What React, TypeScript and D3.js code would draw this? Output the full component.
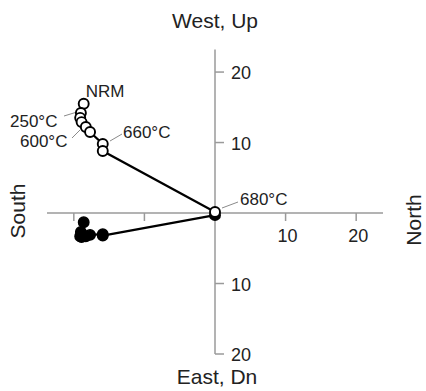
import React from "react";
import * as d3 from "d3";

// demagnetization steps
const steps = ["NRM", "", "250°C", "", "", "600°C", "660°C", "", "680°C"];
// North component (shared by both projections)
const northVals = [-18.6, -19.0, -19.1, -18.9, -18.3, -17.7, -15.9, -15.9, 0];
// vertical projection (Up), open circles
const upVals = [15.5, 14.2, 13.5, 12.9, 12.2, 11.5, 9.8, 8.8, 0.15];
// horizontal projection (West), filled circles
const westVals = [-1.3, -2.7, -3.3, -3.4, -3.3, -3.1, -3.0, -3.2, -0.3];

const xTicks = [-20, -10, 10, 20];
const yTicks = [-20, -10, 10, 20];

const W = 426;
const H = 391;
const FONT = "'Liberation Sans', Arial, sans-serif";

const x = d3.scaleLinear().domain([-23.8, 23.8]).range([47, 383]);
const y = d3.scaleLinear().domain([-20, 23.2]).range([354, 49.5]);

// label placement for the temperature steps: text position and leader line
const labelPos: Record<string, { tx: number; ty: number; anchor: string; l?: number[] }> = {
  NRM: { tx: 105, ty: 97, anchor: "middle" },
  "250°C": { tx: 10, ty: 127, anchor: "start", l: [64, 116, 77, 112] },
  "600°C": { tx: 20, ty: 147, anchor: "start", l: [72, 138, 80, 130] },
  "660°C": { tx: 123, ty: 138, anchor: "start", l: [110, 141, 122, 134] },
  "680°C": { tx: 240, ty: 205, anchor: "start", l: [222, 208, 238, 202] },
};

export default function App() {
  const vertPts = northVals.map((n, i) => [x(n), y(upVals[i])] as [number, number]);
  const horPts = northVals.map((n, i) => [x(n), y(westVals[i])] as [number, number]);
  const line = d3.line();
  const x0 = x(0);
  const y0 = y(0);

  return (
    <svg width={W} height={H} style={{ position: "absolute", left: 0, top: 0, background: "#fff" }} fontFamily={FONT}>
      {/* axes */}
      <g stroke="#9a9a9a" strokeWidth={1.5} fill="none">
        <line x1={x.range()[0]} x2={x.range()[1]} y1={y0} y2={y0} />
        <line x1={x0} x2={x0} y1={y.range()[0]} y2={y.range()[1]} />
        {xTicks.map((t) => (
          <line key={"xt" + t} x1={x(t)} x2={x(t)} y1={y0} y2={y0 + 8} />
        ))}
        {yTicks.map((t) => (
          <line key={"yt" + t} x1={x0} x2={x0 + 9} y1={y(t)} y2={y(t)} />
        ))}
      </g>
      <g fontSize={18} fill="#222">
        {xTicks.filter((t) => t > 0).map((t) => (
          <text key={"xl" + t} x={x(t) + 2} y={y0 + 29} textAnchor="middle">{Math.abs(t)}</text>
        ))}
        {yTicks.map((t) => (
          <text key={"yl" + t} x={x0 + 16} y={y(t) + 7} textAnchor="start">{Math.abs(t)}</text>
        ))}
      </g>

      {/* axis names */}
      <g fontSize={21} fill="#222">
        <text x={215} y={28} textAnchor="middle">West, Up</text>
        <text x={217} y={384} textAnchor="middle">East, Dn</text>
        <text transform="translate(25,211) rotate(-90)" textAnchor="middle">South</text>
        <text transform="translate(421,220) rotate(-90)" textAnchor="middle">North</text>
      </g>

      {/* step labels */}
      <g fontSize={17} fill="#222">
        {steps.map((s, i) => {
          if (!s) return null;
          const p = labelPos[s];
          return (
            <g key={"lab" + i}>
              {p.l && <line x1={p.l[0]} y1={p.l[1]} x2={p.l[2]} y2={p.l[3]} stroke="#8a8a8a" strokeWidth={1} />}
              <text x={p.tx} y={p.ty} textAnchor={p.anchor}>{s}</text>
            </g>
          );
        })}
      </g>

      {/* horizontal projection */}
      <path d={line(horPts) || ""} fill="none" stroke="#000" strokeWidth={2.2} />
      {horPts.map((p, i) => (
        <circle key={"h" + i} cx={p[0]} cy={p[1]} r={5.2} fill="#000" stroke="#000" strokeWidth={1.5} />
      ))}

      {/* vertical projection */}
      <path d={line(vertPts) || ""} fill="none" stroke="#000" strokeWidth={2.2} />
      {vertPts.map((p, i) => (
        <circle key={"v" + i} cx={p[0]} cy={p[1]} r={5} fill="#fff" stroke="#000" strokeWidth={1.9} />
      ))}
    </svg>
  );
}
